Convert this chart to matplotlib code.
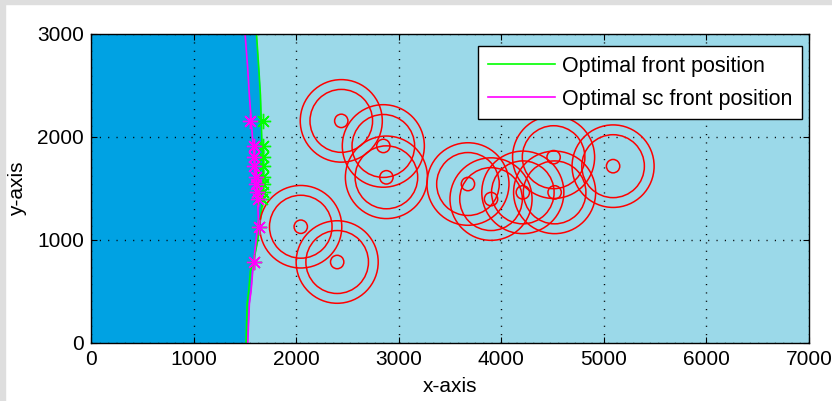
import numpy as np
import matplotlib.pyplot as plt
from matplotlib.patches import Circle, Rectangle

plt.rcParams['font.family'] = ['Liberation Sans', 'DejaVu Sans']

# front curves (x position of the front at each height)
front_y = [0, 380, 510, 700, 800, 1000, 1200, 1400, 1580, 1880, 2170, 2400, 2660, 3000]
opt_front_x = [1512, 1522, 1538, 1554, 1587, 1626, 1652, 1675, 1684, 1668, 1659, 1652, 1636, 1613]
sc_front_x = [1528, 1544, 1561, 1577, 1587, 1610, 1632, 1623, 1610, 1583, 1561, 1544, 1528, 1502]

# star markers on the fronts
star_y = [2153, 1910, 1801, 1714, 1606, 1541, 1460, 1395, 1127, 785]
opt_star_x = [1681, 1681, 1681, 1681, 1681, 1678, 1676, 1672, 1640, 1585]
sc_star_x = [1554, 1587, 1593, 1593, 1610, 1610, 1620, 1626, 1636, 1593]

# sources (circle centres) and ring radii
src_x = [2440, 2850, 2880, 2045, 2400, 3675, 3900, 4210, 4510, 4520, 5090]
src_y = [2153, 1910, 1606, 1127, 785, 1541, 1395, 1460, 1801, 1460, 1714]
radii = [65, 305, 400]

dark_blue = '#00a2e3'
light_blue = '#9bd9e9'

fig = plt.figure(figsize=(8.32, 4.01), dpi=100)
fig.patch.set_facecolor('white')
# grey frame on left / top edge
fig.patches.append(Rectangle((0, 0), 5 / 832, 1, transform=fig.transFigure,
                             color='#dedede', zorder=0))
fig.patches.append(Rectangle((0, 1 - 4 / 401), 1, 4 / 401, transform=fig.transFigure,
                             color='#dedede', zorder=0))

ax = fig.add_axes([91 / 832, 1 - 343 / 401, 718 / 832, 309.5 / 401])
ax.set_facecolor(light_blue)

# dark region left of the front
edge_x = np.maximum(opt_front_x, sc_front_x)
ax.fill_betweenx(front_y, 0, edge_x, color=dark_blue, lw=0, zorder=1)

ax.plot(opt_front_x, front_y, color='#00ff00', lw=1.2, zorder=3, label='Optimal front position')
ax.plot(sc_front_x, front_y, color='#ff00ff', lw=1.2, zorder=3, label='Optimal sc front position')
ax.plot(opt_star_x, star_y, ls='none', marker=(8, 2, 0), ms=11, mew=1, color='#00ff00', zorder=4)
ax.plot(sc_star_x, star_y, ls='none', marker=(8, 2, 0), ms=11, mew=1, color='#ff00ff', zorder=4)

for cx, cy in zip(src_x, src_y):
    for r in radii:
        ax.add_patch(Circle((cx, cy), r, fill=False, ec='red', lw=1.1, zorder=3))

ax.set_xlim(0, 7000)
ax.set_ylim(0, 3000)
ax.set_xticks(range(0, 7001, 1000))
ax.set_yticks([0, 1000, 2000, 3000])
ax.tick_params(direction='in', top=True, right=True, length=4.5, labelsize=15, pad=5)
ax.set_axisbelow(False)
ax.grid(True, color='black', lw=1, ls=(0, (0.8, 5.2)), zorder=2)
for s in ax.spines.values():
    s.set_linewidth(1)
    s.set_zorder(5)

ax.set_xlabel('x-axis', fontsize=15, labelpad=6)
ax.set_ylabel('y-axis', fontsize=15, labelpad=7)

leg = ax.legend(loc='upper right', bbox_to_anchor=(802 / 832, 1 - 46 / 401),
                bbox_transform=fig.transFigure, borderaxespad=0, fontsize=15.5,
                handlelength=3.15, handletextpad=0.3, borderpad=0.45, labelspacing=0.55,
                fancybox=False, framealpha=1, edgecolor='black')
leg.get_frame().set_linewidth(1)
leg.set_zorder(6)

fig.savefig('out.png', dpi=100)
